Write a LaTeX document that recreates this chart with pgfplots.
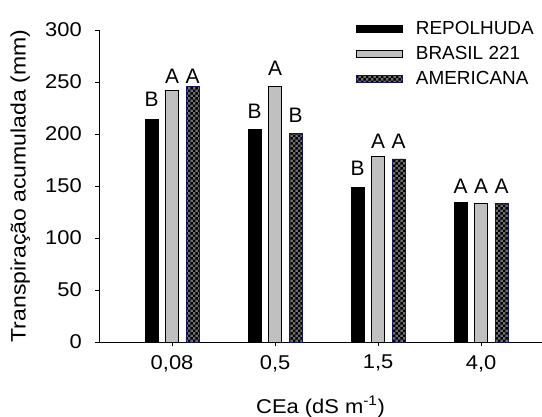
\documentclass[border=0pt]{standalone}
\usepackage{fontspec}
\setmainfont{Liberation Sans}
\newfontfamily\wide[FakeStretch=1.1]{Liberation Sans}
\usepackage{pgfplots}
\pgfplotsset{compat=1.18}
\usetikzlibrary{patterns,calc}

\definecolor{barblack}{RGB}{0,0,0}
\definecolor{bargrey}{RGB}{192,192,192}
\definecolor{checkgrey}{RGB}{110,110,110}
\definecolor{edgeblue}{RGB}{20,20,100}

\pgfdeclarepatternformonly{bigchecker}{\pgfpointorigin}{\pgfqpoint{5.4bp}{5.4bp}}{\pgfqpoint{5.4bp}{5.4bp}}{%
  \pgfpathrectangle{\pgfpointorigin}{\pgfqpoint{2.7bp}{2.7bp}}%
  \pgfpathrectangle{\pgfqpoint{2.7bp}{2.7bp}}{\pgfqpoint{2.7bp}{2.7bp}}%
  \pgfusepath{fill}}

\pgfplotsset{
  boxlegend/.style={legend image code/.code={%
    \draw[##1] (0bp,-3.5bp) rectangle (46bp,3.5bp);}},
  letters/.style={draw=none, mark=none, forget plot, nodes near coords,
    point meta=explicit symbolic,
    nodes near coords style={anchor=south, inner sep=0pt, xshift=#1,
      font=\fontsize{21}{21}\selectfont}},
}

\begin{document}
\begin{tikzpicture}
\begin{axis}[
  name=ax,
  scale only axis, width=443bp, height=312bp,
  xmin=-0.709, xmax=3.59, ymin=0, ymax=300,
  axis x line*=bottom, axis y line*=left,
  axis line style={line width=0.9bp},
  every tick/.style={line width=0.9bp, black},
  tick align=outside, major tick length=4bp,
  xtick={0,1,2,3}, xticklabels={{0,08},{0,5},{1,5},{4,0}},
  ytick={0,50,...,300},
  /pgf/number format/assume math mode=true,
  xticklabel style={inner sep=0pt, anchor=north, yshift=-9bp, font=\wide\fontsize{20}{20}\selectfont},
  yticklabel style={inner sep=0pt, anchor=east, xshift=-13bp, font=\wide\fontsize{20}{20}\selectfont},
  xlabel={CEa (dS m\textsuperscript{-1})},
  ylabel={Transpiração acumulada (mm)},
  xlabel style={at={(axis description cs:0.5,-0.2276)}, anchor=base, inner sep=0pt, font=\wide\fontsize{20}{20}\selectfont},
  ylabel style={at={(axis description cs:-0.178,0.5)}, anchor=center, inner sep=0pt, font=\wide\fontsize{21}{21}\selectfont},
  legend cell align=left,
  legend style={at={(rel axis cs:0.580,1.027)}, anchor=north west, draw=none, fill=none,
    inner sep=0pt, row sep=10bp, column sep=0bp,
    /tikz/every odd column/.append style={column sep=13bp},
    nodes={inner sep=0pt, font=\fontsize{19}{19}\selectfont}},
]
\addplot[ybar, bar width=13bp, bar shift=-20.5bp, fill=barblack, draw=barblack, boxlegend]
  coordinates {(0,214) (1,204.5) (2,149) (3,134.6)};
\addlegendentry{REPOLHUDA}
\addplot[ybar, bar width=13bp, bar shift=0bp, fill=bargrey, draw=black, line width=0.8bp, boxlegend]
  coordinates {(0,242) (1,246) (2,178) (3,133)};
\addlegendentry{BRASIL 221}
\addplot[ybar, bar width=13bp, bar shift=20.5bp, fill=checkgrey, draw=edgeblue, line width=0.8bp,
  postaction={pattern=bigchecker, pattern color=black}, boxlegend]
  coordinates {(0,246) (1,200.6) (2,176) (3,133)};
\addlegendentry{AMERICANA}

\addplot[letters=-20.5bp] coordinates {(0,226)[B] (1,215)[B] (2,160)[B] (3,143)[A]};
\addplot[letters=0bp] coordinates {(0,248)[A] (1,256)[A] (2,186)[A] (3,143)[A]};
\addplot[letters=20.5bp] coordinates {(0,248)[A] (1,211)[B] (2,186)[A] (3,143)[A]};
\end{axis}
\pgfresetboundingbox
\path[use as bounding box] ($(ax.south west)+(-99bp,-75bp)$) rectangle ($(ax.north east)+(0bp,30bp)$);
\end{tikzpicture}
\end{document}
